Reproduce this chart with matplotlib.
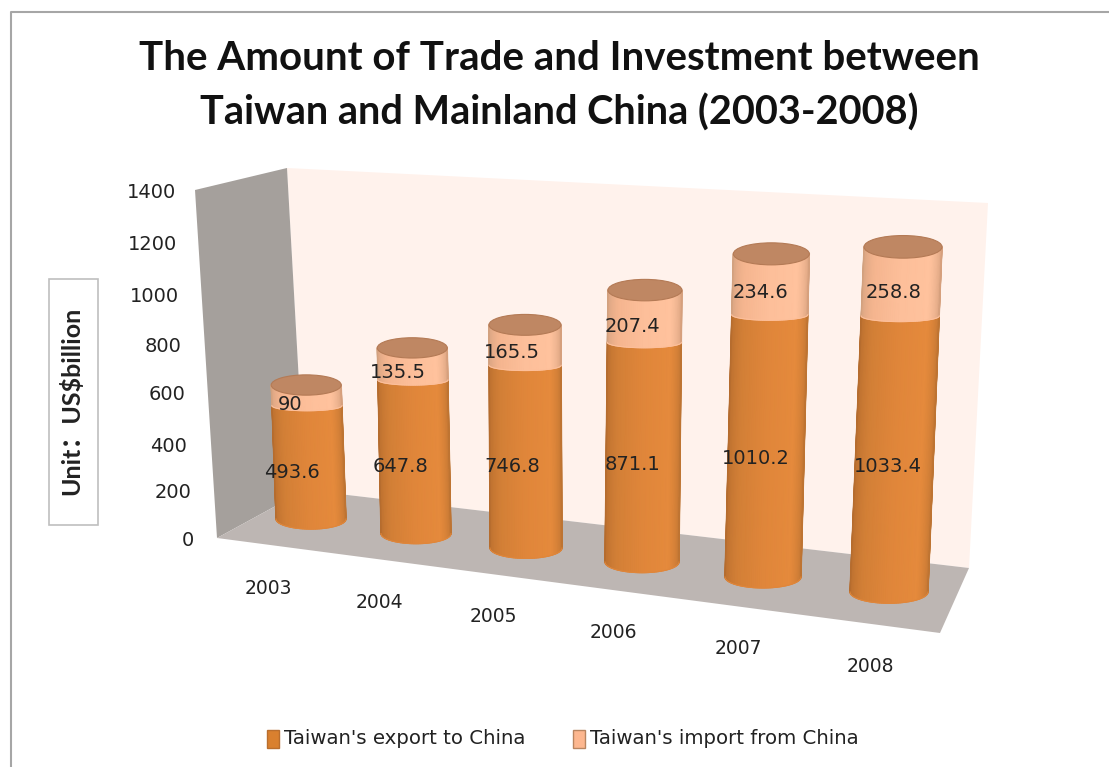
# Stacked 3D cylinder chart drawn on a pixel-sized axes
import numpy as np
import matplotlib
matplotlib.use('Agg')
import matplotlib.pyplot as plt
from matplotlib.colors import LinearSegmentedColormap
from matplotlib.patches import Ellipse, Polygon, Rectangle

# Data
anos = ['2003', '2004', '2005', '2006', '2007', '2008']
exportacao = [493.6, 647.8, 746.8, 871.1, 1010.2, 1033.4]
importacao = [90, 135.5, 165.5, 207.4, 234.6, 258.8]
ticks_y = [0, 200, 400, 600, 800, 1000, 1200, 1400]

# Perspective of each cylinder: base centre, pixels per unit, radius
base_x = [311, 416, 526, 642, 763, 889]
base_y = [519, 533.6, 548, 562, 577, 592]
px_unidade = [0.2296, 0.2371, 0.2446, 0.2521, 0.2596, 0.2671]
raio_x = [35, 35, 36, 37, 38, 39]
fuga_x = 560  # cylinders lean away from this column

# Label positions
pos_ano = [(268, 588), (379, 603), (493, 617), (613, 632), (738, 648), (870, 666)]
pos_exp = [(292, 473), (400, 467), (512, 467), (632, 464), (756, 458), (888, 467)]
pos_imp = [(290, 404), (398, 372), (512, 352), (632, 326), (760, 292), (894, 292)]
pos_tick = [(194, 541), (192, 493), (187, 446), (186, 395), (182, 346), (179, 296), (177, 245), (176, 193)]

cor_exp = LinearSegmentedColormap.from_list(
    'exp', ['#B56C2E', '#D27F36', '#E0863A', '#E58A3C', '#BE7432'])
cor_imp = LinearSegmentedColormap.from_list(
    'imp', ['#D2A17F', '#F5B58F', '#FDBF9A', '#FFC29D', '#D6A07D'])
cor_texto = '#222222'


def projeta(i, valor):
    # position of a value on the axis of cylinder i
    x = base_x[i] + 3.3e-5 * (base_x[i] - fuga_x) * valor
    y = base_y[i] - px_unidade[i] * valor
    return x, y


def segmento(ax, i, v0, v1, cmap, achata0, achata1):
    # front surface of the cylinder between two values
    t = np.linspace(np.pi, 0, 60)
    rx = raio_x[i]
    ry = 0.29 * rx
    x0, y0 = projeta(i, v0)
    x1, y1 = projeta(i, v1)
    X = np.array([x0 + rx * np.cos(t), x1 + rx * np.cos(t)])
    Y = np.array([y0 + achata0 * ry * np.sin(t), y1 + achata1 * ry * np.sin(t)])
    C = np.array([np.linspace(0, 1, 60), np.linspace(0, 1, 60)])
    ax.pcolormesh(X, Y, C, shading='gouraud', cmap=cmap, vmin=0, vmax=1, zorder=3 + i)
    # thin outline keeps the silhouette smooth
    ax.plot(X[:, 0], Y[:, 0], color=cmap(0.0), lw=1, zorder=3 + i)
    ax.plot(X[:, -1], Y[:, -1], color=cmap(1.0), lw=1, zorder=3 + i)
    ax.plot(X[0], Y[0], color=cmap(0.5), lw=0.8, zorder=3 + i)


fig = plt.figure(figsize=(11.09, 7.67), dpi=100)
ax = fig.add_axes([0, 0, 1, 1])
ax.set_xlim(0, 1109)
ax.set_ylim(767, 0)
ax.axis('off')

# Outer frame
ax.plot([11, 11, 1109], [767, 12, 12], color='#A6A6A6', lw=1.5, zorder=1)

# Walls and floor
ax.add_patch(Polygon([(287, 168), (988, 203), (969, 568), (305, 490)],
                     facecolor='#FFF2EC', edgecolor='none', zorder=1))
ax.add_patch(Polygon([(195, 190), (287, 168), (305, 490), (217, 538)],
                     facecolor='#A5A09C', edgecolor='none', zorder=1))
ax.add_patch(Polygon([(217, 538), (305, 490), (969, 568), (940, 633)],
                     facecolor='#BDB6B3', edgecolor='none', zorder=2))

# Cylinders
for i in range(len(anos)):
    total = exportacao[i] + importacao[i]
    segmento(ax, i, 0, exportacao[i], cor_exp, 1.0, 0.5)
    segmento(ax, i, exportacao[i], total, cor_imp, 0.5, 1.0)
    xt, yt = projeta(i, total)
    ax.add_patch(Ellipse((xt, yt), 2 * raio_x[i], 2 * 0.29 * raio_x[i],
                         facecolor='#BF8763', edgecolor='#B47A55', lw=0.8, zorder=3 + i))

# Value labels
for i in range(len(anos)):
    ax.text(*pos_exp[i], str(exportacao[i]), fontsize=14, color=cor_texto,
            ha='center', va='center', zorder=20)
    ax.text(*pos_imp[i], str(importacao[i]), fontsize=14, color=cor_texto,
            ha='center', va='center', zorder=20)

# Axis labels
for v, (x, y) in zip(ticks_y, pos_tick):
    ax.text(x, y, str(v), fontsize=14, color=cor_texto, ha='right', va='center')

for i in range(len(anos)):
    ax.text(*pos_ano[i], anos[i], fontsize=13.5, color=cor_texto, ha='center', va='center')

# Title
ax.text(559, 59, 'The Amount of Trade and Investment between', fontsize=29,
        family='Lato', weight='bold', color='#111111', ha='center', va='center')
ax.text(559, 113, 'Taiwan and Mainland China (2003-2008)', fontsize=28.5,
        family='Lato', weight='bold', color='#111111', ha='center', va='center')

# Unit box
ax.add_patch(Rectangle((49, 279), 49, 246, facecolor='white', edgecolor='#BFBFBF', lw=1.2))
ax.text(71, 401, 'Unit：US$billion', rotation=90, fontsize=18, weight='bold',
        family=['Lato', 'Noto Sans CJK SC'], color=cor_texto, ha='center', va='center')

# Legend
ax.add_patch(Rectangle((267, 730), 12, 18, facecolor='#D9802F', edgecolor='#B96E2E', lw=1))
ax.text(284, 738, "Taiwan's export to China", fontsize=14.2, color=cor_texto, ha='left', va='center')
ax.add_patch(Rectangle((573, 730), 12, 18, facecolor='#FDB78F', edgecolor='#B98560', lw=1))
ax.text(590, 738, "Taiwan's import from China", fontsize=14.2, color=cor_texto, ha='left', va='center')

fig.savefig('out.png', dpi=100)
